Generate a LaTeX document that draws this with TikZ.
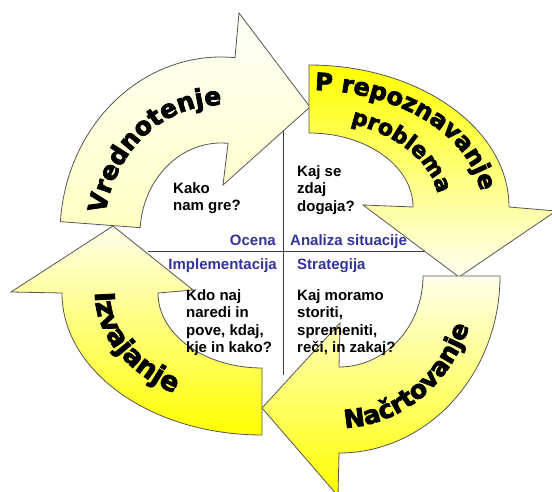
\documentclass[tikz,border=0pt]{standalone}
\usepackage{fontspec}
\setmainfont{Liberation Sans}
\newfontfamily\heavyfont[FakeBold=3]{DejaVu Sans Bold}
\usetikzlibrary{decorations.text}
\definecolor{lineg}{RGB}{60,60,60}
\definecolor{edgeg}{RGB}{85,85,85}
\definecolor{lblue}{RGB}{51,51,153}
\definecolor{ylw}{RGB}{255,255,0}
\definecolor{tlTop}{RGB}{255,255,250}
\definecolor{tlBot}{RGB}{255,255,195}
\definecolor{trBot}{RGB}{255,255,242}
\definecolor{brTop}{RGB}{255,255,235}
\definecolor{blTop}{RGB}{255,255,235}
\newcommand\arrowtxt[1]{\heavyfont\fontsize{#1}{#1}\selectfont}
\tikzset{
  crossline/.style={draw=lineg, line width=1pt},
  arrowshape/.style={draw=edgeg, line width=0.8pt, line join=miter},
  arrowlabel/.style 2 args={decorate, decoration={text along path, text align=center, text={|\arrowtxt{#1}|#2}}},
  qtext/.style={font=\bfseries\fontsize{15}{17.5}\selectfont, align=left, inner sep=0pt, anchor=north west, text=black},
  lbl/.style={font=\bfseries\fontsize{15}{17.5}\selectfont, inner sep=0pt, text=lblue}
}
\begin{document}
\begin{tikzpicture}[x=1pt,y=1pt]
\useasboundingbox (0,0) rectangle (552,492);
\coordinate (c1) at (221,258);
\coordinate (c2) at (309,285);
\coordinate (c3) at (339,216);
\coordinate (c4) at (262,199);
\coordinate (vtop) at (283,366);
\coordinate (vbot) at (283,117);
\coordinate (hl) at (148,240);
\coordinate (hr) at (430,240);
\draw[crossline] (vtop) -- (vbot);
\draw[crossline] (hl) -- (hr);

% top-left arrow
\draw[arrowshape, top color=tlTop, bottom color=tlBot]
  ([shift={(c1)}]176:161 and 177) arc[start angle=176, end angle=85, x radius=161, y radius=177]
  -- (239,479) -- (310,385) -- (223,307)
  -- ([shift={(c1)}]85:81 and 91) arc[start angle=85, end angle=176, x radius=81, y radius=91] -- cycle;
% top-right arrow
\draw[arrowshape, top color=ylw, bottom color=trBot]
  ([shift={(c2)}]90:200 and 142) arc[start angle=90, end angle=0, x radius=200, y radius=142]
  -- (556,281) -- (459,215) -- (363,287)
  -- ([shift={(c2)}]0:104 and 74) arc[start angle=0, end angle=90, x radius=104, y radius=74] -- cycle;
% bottom-right arrow
\draw[arrowshape, top color=brTop, bottom color=ylw]
  ([shift={(c3)}]0:161 and 177) arc[start angle=0, end angle=-90, x radius=161, y radius=177]
  -- (338,-4) -- (262,84) -- (340,169)
  -- ([shift={(c3)}]-90:84 and 91) arc[start angle=-90, end angle=0, x radius=84, y radius=91] -- cycle;
% bottom-left arrow
\draw[arrowshape, top color=blTop, bottom color=ylw]
  ([shift={(c4)}]-90:200 and 142) arc[start angle=-90, end angle=-180, x radius=200, y radius=142]
  -- (11,200) -- (113,266) -- (193,202)
  -- ([shift={(c4)}]180:104 and 75) arc[start angle=-180, end angle=-90, x radius=104, y radius=75] -- cycle;

% arrow texts
\path[arrowlabel={25}{Vrednotenje}] ([shift={(c1)}]177:117 and 129) arc[start angle=177, end angle=83, x radius=117, y radius=129];
\path[arrowlabel={24}{P repoznavanje}] ([shift={(c2)}]96:173 and 117) arc[start angle=96, end angle=-4, x radius=173, y radius=117];
\path[arrowlabel={22}{problema}] ([shift={(c2)}]80:130 and 88) arc[start angle=80, end angle=-4, x radius=130, y radius=88];
\path[arrowlabel={25}{Načrtovanje}] ([shift={(c3)}]-100:138 and 152) arc[start angle=-100, end angle=-8, x radius=138, y radius=152];
\path[arrowlabel={27}{Izvajanje}] ([shift={(c4)}]155:167 and 118) arc[start angle=155, end angle=257, x radius=167, y radius=118];

% quadrant texts
\node[qtext] (q1) at (173,310) {Kako\\nam gre?};
\node[qtext] (q2) at (297,327) {Kaj se\\zdaj\\dogaja?};
\node[qtext] (q3) at (186,203) {Kdo naj\\naredi in\\pove, kdaj,\\kje in kako?};
\node[qtext] (q4) at (297,203) {Kaj moramo\\storiti,\\spremeniti,\\reči, in zakaj?};
\node[lbl, anchor=base east] (l1) at (276,246) {Ocena};
\node[lbl, anchor=base west] (l2) at (290,246) {Analiza situacije};
\node[lbl, anchor=base east] (l3) at (277,222) {Implementacija};
\node[lbl, anchor=base west] (l4) at (297,222) {Strategija};
\end{tikzpicture}
\end{document}
